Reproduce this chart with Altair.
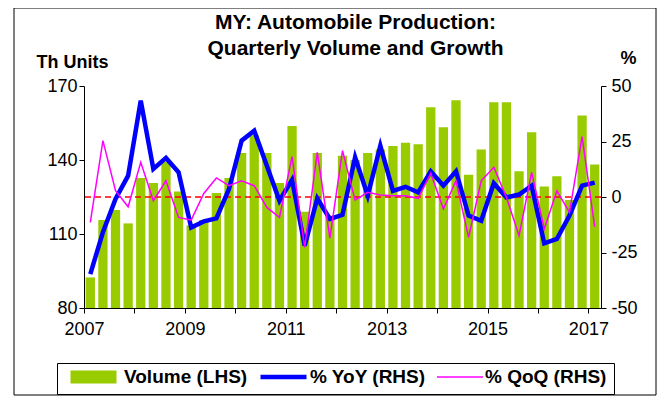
import altair as alt
import pandas as pd

# ---------------- data ----------------
quarters = [f"{y}Q{q}" for y in range(2007, 2018) for q in range(1, 5)][:41]
volume = [92.4, 115.7, 119.7, 114.3, 132.7, 130.7, 139.3, 127.2, 113.5, 115.7,
          126.6, 132.7, 142.8, 150.0, 142.8, 130.7, 153.8, 119.0, 142.8, 117.5,
          141.7, 140.0, 142.8, 144.3, 145.7, 147.0, 146.4, 161.4, 153.3, 164.2,
          134.0, 144.3, 163.4, 163.4, 135.4, 151.2, 129.3, 133.4, 123.8, 158.0,
          138.2]
yoy = [-34.7, -15.9, -0.9, 9.6, 43.4, 12.6, 17.6, 11.1, -13.7, -11.0,
       -9.6, 3.6, 25.4, 29.9, 14.1, -1.7, 7.7, -21.9, -0.6, -9.9,
       -8.0, 17.9, 0.6, 23.1, 2.8, 4.6, 2.1, 11.6, 5.1, 11.6,
       -8.4, -10.7, 6.2, -0.2, 1.1, 5.1, -20.9, -18.9, -8.4, 5.1,
       6.5]
qoq = [-11.4, 25.4, 2.8, -4.4, 15.6, -1.7, 7.3, -9.2, -10.4, 1.6,
       8.6, 5.1, 7.3, 5.1, -4.7, -9.2, 18.2, -22.7, 20.1, -18.5,
       20.9, -1.4, 2.1, 0.9, 0.6, 0.6, -0.6, 10.7, -5.4, 7.3,
       -18.2, 7.3, 13.4, -0.2, -17.4, 11.1, -14.4, 2.8, -6.9, 27.2,
       -13.4]
series_names = ["Volume (LHS)", "% YoY (RHS)", "% QoQ (RHS)"]
series_colors = ["#99CC00", "#0000FF", "#FF00FF"]
series_widths = [13, 4.5, 1.5]
year_ticks = list(range(2007, 2018))
left_ticks = [80, 110, 140, 170]
right_ticks = [-50, -25, 0, 25, 50]
title_lines = ["MY: Automobile  Production:", "Quarterly Volume and Growth"]

FONT = "Liberation Sans"

# ---------------- tables ----------------
t = [int(q[:4]) + (int(q[-1]) - 1) / 4 for q in quarters]
bars_df = pd.DataFrame({
    "quarter": quarters,
    "t0": [v + 0.033 for v in t],
    "t1": [v + 0.217 for v in t],
    "volume": volume,
    "series": series_names[0],
})
yoy_df = pd.DataFrame({"quarter": quarters, "tm": [v + 0.125 for v in t],
                       "value": yoy, "series": series_names[1]})
qoq_df = pd.DataFrame({"quarter": quarters, "tm": [v + 0.125 for v in t],
                       "value": qoq, "series": series_names[2]})

x_scale = alt.Scale(domain=[2007, 2017.25], nice=False, zero=False)
y_left = alt.Scale(domain=[80, 170], nice=False, zero=False)
y_right = alt.Scale(domain=[-50, 50], nice=False, zero=False)

legend = alt.Legend(
    title=None, orient="none", legendX=-27, legendY=277, direction="horizontal",
    symbolType="stroke", symbolSize=2116, clipHeight=14,
    labelFont=FONT, labelFontSize=19, labelFontWeight="bold", labelColor="black",
    labelOffset=1, columnPadding=10, padding=7, strokeColor="black", labelLimit=400,
)
stroke_enc = alt.Stroke("series:N", scale=alt.Scale(domain=series_names, range=series_colors),
                        legend=legend)
sw_enc = alt.StrokeWidth("series:N",
                         scale=alt.Scale(type="ordinal", domain=series_names, range=series_widths),
                         legend=legend)

x_axis = alt.Axis(
    values=year_ticks, labelExpr="datum.value % 2 == 1 ? '' + datum.value : ''",
    title=None, tickSize=5, labelFontSize=18, labelPadding=7, grid=False, labelFlush=False,
)
left_axis = alt.Axis(
    values=left_ticks, orient="left", title="Th Units", titleAngle=0, titleAlign="left",
    titleBaseline="middle", titleX=-48, titleY=-24, titleFontSize=18, titleFontWeight="bold",
    tickSize=5, labelFontSize=18, labelPadding=2, grid=False, labelFlush=False,
)
right_axis = alt.Axis(
    values=right_ticks, orient="right", title="%", titleAngle=0, titleAlign="center",
    titleBaseline="middle", titleX=27, titleY=-28, titleFontSize=18, titleFontWeight="bold",
    tickSize=5, labelFontSize=18, labelPadding=5, grid=False, labelFlush=False,
    labelExpr="'' + datum.value",
)

frame = alt.Chart(pd.DataFrame({"a": [0]})).mark_rect(
    fillOpacity=0, stroke="black", strokeWidth=1, clip=False
).encode(x=alt.value(-70), x2=alt.value(572), y=alt.value(-78), y2=alt.value(309))

bars = alt.Chart(bars_df).mark_bar(fill="#99CC00", strokeWidth=0, clip=True).encode(
    x=alt.X("t0:Q", scale=x_scale, axis=x_axis),
    x2="t1",
    y=alt.Y("volume:Q", scale=y_left, axis=left_axis),
    y2=alt.datum(80),
    stroke=stroke_enc,
)

zero_rule = alt.Chart(pd.DataFrame({"value": [0]})).mark_rule(
    color="#FF0000", strokeDash=[6, 4], strokeWidth=1.5
).encode(y=alt.Y("value:Q", scale=y_right, axis=right_axis))

yoy_line = alt.Chart(yoy_df).mark_line().encode(
    x=alt.X("tm:Q", scale=x_scale, axis=x_axis),
    y=alt.Y("value:Q", scale=y_right, axis=right_axis),
    stroke=stroke_enc, strokeWidth=sw_enc,
)
qoq_line = alt.Chart(qoq_df).mark_line().encode(
    x=alt.X("tm:Q", scale=x_scale, axis=x_axis),
    y=alt.Y("value:Q", scale=y_right, axis=right_axis),
    stroke=stroke_enc, strokeWidth=sw_enc,
)

chart = alt.layer(
    frame, bars, alt.layer(zero_rule, yoy_line, qoq_line)
).resolve_scale(y="independent").properties(
    width=517, height=222,
    autosize=alt.AutoSizeParams(type="none"),
    padding={"left": 76, "top": 78, "right": 56, "bottom": 88},
    title=alt.TitleParams(text=title_lines, font=FONT, fontSize=21, fontWeight="bold",
                          color="black", anchor="middle", dx=13, dy=65, lineHeight=26, offset=14),
).configure_view(strokeWidth=0).configure_axis(
    domainColor="black", tickColor="black", labelColor="black", titleColor="black",
    labelFont=FONT, titleFont=FONT,
)

chart.save("out.html", embed_options={"renderer": "svg", "actions": False})
